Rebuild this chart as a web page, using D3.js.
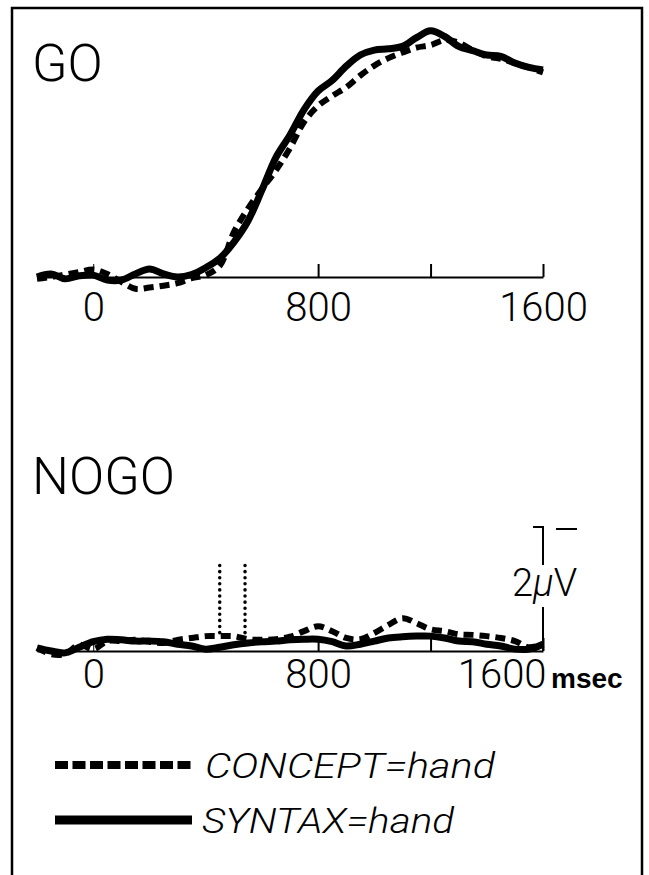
<!DOCTYPE html>
<html lang="en">
<head>
    <meta charset="UTF-8">
    <title>GO / NOGO ERP</title>
    <script src="https://d3js.org/d3.v7.min.js"></script>
    <style>
        body { margin: 0; background: #fff; }
        svg { display: block; }
        .lbl { font-family: Roboto, "Liberation Sans", Arial, sans-serif; font-weight: 300; fill: #000; }
        .tick text { font-family: Roboto, "Liberation Sans", Arial, sans-serif; font-weight: 300; font-size: 40px; fill: #000; }
        .axis path, .axis line { stroke: #000; }
        .curve { fill: none; stroke: #000; stroke-linejoin: round; }
    </style>
</head>
<body>
    <script>
        // time points (ms) shared by all curves
        const times = d3.range(-200, 1601, 50);

        // GO condition (µV, negative up)
        const goConcept = [0.03, 0.00, -0.04, -0.08, -0.12, -0.05, 0.08, 0.19, 0.17, 0.14, 0.10, 0.02, -0.03,
            -0.18, -0.72, -1.10, -1.42, -1.72, -2.08, -2.50, -2.76, -2.92, -3.06, -3.25, -3.41, -3.53, -3.62,
            -3.70, -3.74, -3.82, -3.78, -3.66, -3.56, -3.52, -3.45, -3.38, -3.30];
        const goSyntax = [0.00, -0.05, 0.03, -0.02, -0.03, 0.05, 0.05, -0.05, -0.13, -0.05, 0.00, -0.04, -0.15,
            -0.30, -0.56, -0.90, -1.40, -1.93, -2.29, -2.70, -3.00, -3.17, -3.40, -3.58, -3.66, -3.68, -3.72,
            -3.86, -3.97, -3.88, -3.72, -3.65, -3.58, -3.56, -3.45, -3.38, -3.34];

        // NOGO condition
        const nogoConcept = [-0.05, 0.05, 0.05, -0.10, -0.03, -0.16, -0.16, -0.18, -0.15, -0.13, -0.18, -0.21, -0.24,
            -0.24, -0.24, -0.19, -0.18, -0.19, -0.23, -0.32, -0.40, -0.32, -0.21, -0.19, -0.29, -0.42, -0.53,
            -0.45, -0.35, -0.32, -0.27, -0.26, -0.24, -0.21, -0.16, -0.06, -0.11];
        const nogoSyntax = [-0.05, 0.00, 0.03, -0.06, -0.15, -0.19, -0.18, -0.16, -0.16, -0.15, -0.11, -0.08, -0.03,
            -0.06, -0.10, -0.13, -0.15, -0.16, -0.18, -0.19, -0.19, -0.15, -0.08, -0.11, -0.16, -0.21, -0.23,
            -0.24, -0.24, -0.21, -0.16, -0.15, -0.11, -0.08, -0.03, -0.03, -0.11];

        const tickVals = [0, 800, 1200, 1600];
        const tickLabels = ["0", "800", "", "1600"];
        const markers = [450, 540];   // dotted lines in NOGO
        const legendItems = ["CONCEPT=hand", "SYNTAX=hand"];

        const W = 649, H = 875;
        const svg = d3.select("body").append("svg")
            .attr("width", W)
            .attr("height", H);

        // frame, open at the bottom
        svg.append("path")
            .attr("d", "M12," + H + "V8H642V" + H)
            .attr("fill", "none")
            .attr("stroke", "#000")
            .attr("stroke-width", 2.5);

        const x = d3.scaleLinear().domain([-200, 1600]).range([37, 543]);

        const drawPanel = (base, title, titleY, concept, syntax, labelPad, lastAnchor) => {
            const y = d3.scaleLinear().domain([0, -2]).range([base, base - 124]);
            const g = svg.append("g");

            const axis = d3.axisBottom(x)
                .tickValues(tickVals)
                .tickSizeInner(-13)
                .tickSizeOuter(0)
                .tickPadding(labelPad)
                .tickFormat((d, i) => tickLabels[i]);

            const ax = g.append("g")
                .attr("class", "axis")
                .attr("transform", "translate(0," + base + ")")
                .call(axis);
            ax.select(".domain").attr("stroke-width", 2);
            ax.selectAll(".tick line").attr("stroke-width", d => d === 0 ? 1 : 2);
            ax.selectAll(".tick text")
                .attr("text-anchor", d => d === 1600 ? lastAnchor : "middle")
                .attr("dx", d => d === 1600 && lastAnchor === "end" ? 3 : 0);

            const line = d3.line()
                .x((d, i) => x(times[i]))
                .y(d => y(d))
                .curve(d3.curveCatmullRom);

            g.append("path").datum(syntax)
                .attr("class", "curve")
                .attr("stroke-width", 7)
                .attr("d", line);
            g.append("path").datum(concept)
                .attr("class", "curve")
                .attr("stroke-width", 6)
                .attr("stroke-dasharray", "10,6")
                .attr("d", line);

            svg.append("text")
                .attr("class", "lbl")
                .attr("x", 32)
                .attr("y", titleY)
                .attr("font-size", 52)
                .text(title);
            return { g, y };
        };

        drawPanel(277, "GO", 81, goConcept, goSyntax, 16, "middle");
        const nogo = drawPanel(651, "NOGO", 494, nogoConcept, nogoSyntax, 9, "end");

        // dotted marker lines
        nogo.g.selectAll(".marker")
            .data(markers)
            .enter().append("line")
            .attr("class", "marker")
            .attr("x1", d => x(d)).attr("x2", d => x(d))
            .attr("y1", nogo.y(-1.38)).attr("y2", nogo.y(-0.26))
            .attr("stroke", "#000")
            .attr("stroke-width", 3.5)
            .attr("stroke-linecap", "round")
            .attr("stroke-dasharray", "0.1,6");

        // 2 µV scale bar
        const sx = x(1600);
        svg.append("path")
            .attr("d", "M" + (sx - 10) + "," + nogo.y(-2) + "H" + sx + "V" + nogo.y(0))
            .attr("fill", "none")
            .attr("stroke", "#000")
            .attr("stroke-width", 2);
        const sbText = svg.append("text")
            .attr("class", "lbl")
            .attr("x", 512)
            .attr("y", 596)
            .attr("font-size", 38);
        sbText.append("tspan").text("2");
        sbText.append("tspan").attr("font-style", "italic").text("µ");
        sbText.append("tspan").text("V");
        const bb = sbText.node().getBBox();
        svg.insert("rect", () => sbText.node())
            .attr("x", sx - 4).attr("y", bb.y + 4)
            .attr("width", 8).attr("height", bb.height - 2)
            .attr("fill", "#fff");
        svg.append("line")
            .attr("x1", 556).attr("x2", 577)
            .attr("y1", nogo.y(-2) + 2).attr("y2", nogo.y(-2) + 2)
            .attr("stroke", "#000").attr("stroke-width", 2);

        svg.append("text")
            .attr("x", 551)
            .attr("y", 688)
            .attr("font-family", "'Liberation Sans', Arial, sans-serif")
            .attr("font-size", 28)
            .attr("font-weight", "bold")
            .text("msec");

        // legend
        const legY = [765, 820];
        const legW = [290, 252];
        const leg = svg.selectAll(".leg")
            .data(legendItems)
            .enter().append("g")
            .attr("class", "leg")
            .attr("transform", (d, i) => "translate(0," + legY[i] + ")");
        leg.append("line")
            .attr("x1", 55).attr("x2", 192)
            .attr("stroke", "#000")
            .attr("stroke-width", (d, i) => i === 0 ? 8 : 9)
            .attr("stroke-dasharray", (d, i) => i === 0 ? "13,4.5" : null);
        leg.append("text")
            .attr("class", "lbl")
            .attr("x", (d, i) => i === 0 ? 205 : 202)
            .attr("y", 13)
            .attr("font-size", 35)
            .attr("font-style", "italic")
            .attr("textLength", (d, i) => legW[i])
            .attr("lengthAdjust", "spacingAndGlyphs")
            .text(d => d);
    </script>
</body>
</html>
